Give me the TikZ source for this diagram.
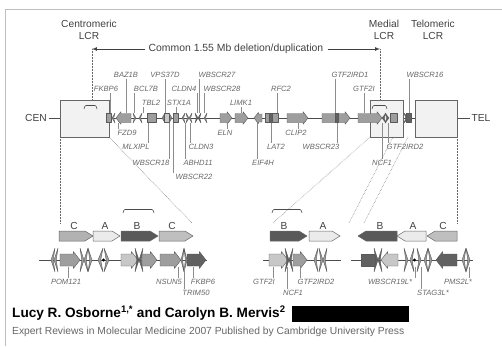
\documentclass[tikz,border=0pt]{standalone}
\usepackage{fontspec}
\setsansfont{Liberation Sans}
\usetikzlibrary{arrows.meta,calc,positioning}

% gene glyphs: arrow right/left (x1,x2,y,half height), box, thin chevrons (x,y,half height,width)
\newcommand{\garR}[5][gene]{\draw[#1] (#2,#4-#5) -- (#3-1.1*#5,#4-#5) -- (#3-1.1*#5,#4-1.4*#5) -- (#3,#4) -- (#3-1.1*#5,#4+1.4*#5) -- (#3-1.1*#5,#4+#5) -- (#2,#4+#5) -- cycle;}
\newcommand{\garL}[5][gene]{\draw[#1] (#3,#4-#5) -- (#2+1.1*#5,#4-#5) -- (#2+1.1*#5,#4-1.4*#5) -- (#2,#4) -- (#2+1.1*#5,#4+1.4*#5) -- (#2+1.1*#5,#4+#5) -- (#3,#4+#5) -- cycle;}
\newcommand{\gbox}[5][gene]{\draw[#1] (#2,#4-#5) rectangle (#3,#4+#5);}
\newcommand{\gchR}[5][gene]{\draw[#1] (#2,#3-#4) -- (#2+#5,#3) -- (#2,#3+#4) -- (#2+0.45*#5,#3) -- cycle;}
\newcommand{\gchL}[5][gene]{\draw[#1] (#2+#5,#3-#4) -- (#2,#3) -- (#2+#5,#3+#4) -- (#2+0.55*#5,#3) -- cycle;}
% LCR segments
\newcommand{\segR}[3]{\draw[seg,fill=#1] (#2,231) -- (#3-8,231) -- (#3,236) -- (#3-8,241) -- (#2,241) -- cycle;}
\newcommand{\segL}[3]{\draw[seg,fill=#1] (#3,231) -- (#2+8,231) -- (#2,236) -- (#2+8,241) -- (#3,241) -- cycle;}

\begin{document}
\begin{tikzpicture}[x=1pt,y=-1pt,
    gene/.style={draw=black!65,fill=black!38,line width=0.4pt,line join=round},
    dgene/.style={gene,fill=black!62},
    lgene/.style={gene,fill=black!22},
    chrom/.style={draw=black!70,line width=0.8pt},
    lcr/.style={draw=black!60,fill=black!5,line width=0.6pt},
    seg/.style={draw=black!60,line width=0.5pt,line join=round},
    hd/.style={font=\sffamily\fontsize{10.2}{12}\selectfont,text=black!75,align=center,inner sep=0pt},
    gl/.style={font=\sffamily\itshape\fontsize{7.6}{8}\selectfont,text=black!60,inner sep=0.8pt},
    lead/.style={draw=black!45,line width=0.35pt},
    dots/.style={draw=black!60,densely dotted,line width=0.5pt},
    brk/.style={draw=black!70,line width=0.6pt,rounded corners=1pt}]
  \useasboundingbox (0,0) rectangle (502,346);
  % frame
  \draw[black!25,line width=1pt] (5,346) -- (5,9) -- (502,9);

  % headings
  \node[hd] (cenlcr) at (89,30) {Centromeric\\LCR};
  \node[hd] (medlcr) at (384,30) {Medial\\LCR};
  \node[hd] (tellcr) at (433,30) {Telomeric\\LCR};
  \node[hd,font=\sffamily\fontsize{10.4}{12}\selectfont] (common) at (236,49) {Common 1.55 Mb deletion/duplication};
  \coordinate (cl) at (92,49);
  \coordinate (cr) at (380,49);
  \draw[-latex,black!75,line width=0.7pt] (common.west) ++(-4,0) -- (cl);
  \draw[-latex,black!75,line width=0.7pt] (common.east) ++(4,0) -- (cr);
  \draw[dots] (cl) -- (92,104);
  \draw[dots] (cr) -- (380,104);

  % chromosome
  \node[hd] (cen) at (36,118) {CEN};
  \node[hd] (tel) at (481,118) {TEL};
  \draw[chrom] (cen.east) ++(2,0) -- (470,118);
  \draw[lcr] (60,100) rectangle (109,137);
  \draw[lcr] (370,100) rectangle (403,137);
  \draw[lcr] (415,100) rectangle (457,137);
  \draw[brk] (84,109) -- (85,105.5) -- (96,105.5) -- (97,109);
  \draw[brk] (372,109) -- (373,105.5) -- (386,105.5) -- (387,109);

  % genes of the deleted region
  \gbox{106}{111}{118}{4.5}
  \gchL{112}{118}{5}{3}
  \garL{116}{131}{118}{4.5}
  \gchR{133}{118}{5}{3}
  \gchL{139}{118}{5}{3}
  \gbox{147}{156}{118}{4.5}
  \gchL{162}{118}{5}{3}
  \gbox[lgene]{164}{169}{118}{4.5}
  \gchR{169}{118}{5}{3}
  \gbox{173}{178}{118}{4.5}
  \gchL{182}{118}{5}{3}
  \gchR{186}{118}{5}{3}
  \gchL{189}{118}{5}{3}
  \gchR[dgene]{195}{118}{5}{3}
  \gchL[dgene]{198}{118}{5}{3}
  \gchL{204}{118}{5}{3}
  \garR{220}{232}{118}{4.5}
  \garR{235}{248}{118}{4.5}
  \garL{254}{262}{118}{4}
  \gbox{265}{278}{118}{4.5}
  \gbox[dgene]{269}{272}{118}{4.5}
  \garR{287}{308}{118}{4.5}
  \garR{322}{350}{118}{4.5}
  \gbox[dgene]{335}{338}{118}{4.5}
  \garR{358}{382}{118}{4.5}
  \gchL[dgene]{382}{118}{5}{4}
  \gchR[dgene]{385}{118}{5}{4}
  \gbox{390}{397}{118}{4.5}
  \gchR[dgene]{404}{118}{5}{4}
  \gbox[dgene]{406}{411}{118}{4.5}

  % labels above the line
  \foreach \nm/\lx/\ly/\txt/\px in {fkbpA/106/89/FKBP6/110, baz/126/75/BAZ1B/126,
      bcl/146/89/BCL7B/134, tbl/151/103/TBL2/143, vps/165/75/VPS37D/165,
      stx/179/103/STX1A/176, cldnF/184/89/CLDN4/197, wbsB/217/75/WBSCR27/199,
      wbsC/222/89/WBSCR28/204, limk/241/103/LIMK1/241, rfc/281/89/RFC2/277,
      gtfA/350/75/GTF2IRD1/335, gtfB/364/89/GTF2I/364, wbsF/425/75/WBSCR16/409} {
    \node[gl] (l\nm) at (\lx,\ly) {\txt};
    \coordinate (p\nm) at (\px,113);
    \draw[lead] (p\nm) -- (p\nm |- l\nm.south);
  }
  % labels below the line
  \foreach \nm/\lx/\ly/\txt/\px in {fzd/127/133/FZD9/118, mlx/136/147/MLXIPL/148,
      wbsA/151/163/WBSCR18/169, wbsD/194/177/WBSCR22/173, abhd/198/163/ABHD11/185,
      cldnT/201/147/CLDN3/190, eln/225/133/ELN/227, eif/263/163/EIF4H/257,
      lat/276/147/LAT2/271, clip/296/133/CLIP2/298, wbsE/321/147/WBSCR23/337,
      ncf/382/163/NCF1/382, gtfC/405/147/GTF2IRD2/388} {
    \node[gl] (l\nm) at (\lx,\ly) {\txt};
    \coordinate (p\nm) at (\px,123);
    \draw[lead] (p\nm) -- (p\nm |- l\nm.north);
  }

  % zoom lines
  \draw[dots] (60,137) -- (60,223);
  \draw[dots] (109,137) -- (192,223);
  \draw[dots] (370,137) -- (273,223);
  \draw[dots] (393,137) -- (349,223);
  \draw[dots] (408,137) -- (364,223);
  \draw[dots] (457,137) -- (457,223);

  % LCR blocks
  \segR{black!30}{59}{93}
  \segR{black!8}{93}{120}
  \segR{black!65}{121}{158}
  \segR{black!25}{159}{193}
  \segR{black!65}{270}{307}
  \segR{black!8}{309}{340}
  \segL{black!65}{358}{397}
  \segL{black!8}{397}{426}
  \segL{black!25}{427}{457}
  \foreach \nm/\lx/\txt in {cA/74/C, aA/105/A, bA/137/B, cB/172/C, bB/284/B, aB/323/A,
      bC/380/B, aC/413/A, cC/443/C}
    \node[hd] (s\nm) at (\lx,226) {\txt};
  \draw[brk] (123,213) -- (124,209.5) -- (153,209.5) -- (154,213);
  \draw[brk] (272,213) -- (273,209.5) -- (301,209.5) -- (302,213);

  % genes within the LCRs
  \draw[chrom,line width=0.7pt] (39,260) -- (207,260);
  \draw[chrom,line width=0.7pt] (263,260) -- (341,260);
  \draw[chrom,line width=0.7pt] (351,260) -- (473,260);
  \gchL{51}{260}{12}{4}
  \gchL{54}{260}{12}{4}
  \garR{60}{80}{260}{6}
  \gchR{80}{260}{12}{4}
  \gchL{84}{260}{12}{4}
  \gchR{88}{260}{12}{4}
  \gchL{98}{260}{12}{5}
  \gchR{104}{260}{12}{5}
  \fill (103.5,260) circle (1.6);
  \garR[lgene]{121}{138}{260}{6}
  \gchR[dgene]{135}{260}{12}{4}
  \gchL[dgene]{139}{260}{12}{4}
  \garR{142}{157}{260}{6}
  \garR{160}{181}{260}{6}
  \gchL{181}{260}{12}{3}
  \gchR{184}{260}{12}{3}
  \garR[dgene]{187}{206}{260}{6}
  \garR[lgene]{269}{288}{260}{6}
  \gchR[dgene]{285}{260}{12}{4}
  \gchL[dgene]{289}{260}{12}{4}
  \garR{293}{307}{260}{6}
  \gchL{314}{260}{12}{4}
  \gchR{319}{260}{12}{4}
  \gchL{323}{260}{12}{4}
  \gbox[dgene]{361}{375}{260}{6}
  \gchR[dgene]{374}{260}{12}{4}
  \gchL[dgene]{378}{260}{12}{4}
  \garL[lgene]{381}{398}{260}{6}
  \gchR{404}{260}{12}{4}
  \gchL{410}{260}{12}{4}
  \gchR{417}{260}{12}{4}
  \fill (414.5,260) circle (1.6);
  \gchL{424}{260}{12}{4}
  \gchR{428}{260}{12}{4}
  \garL[dgene]{436}{457}{260}{6}
  \gchL{462}{260}{12}{4}
  \gchR{466}{260}{12}{4}
  \foreach \nm/\lx/\ly/\txt/\px in {pom/66/282/POM121/68, nsun/169/282/NSUN5/178,
      trim/196/293/TRIM50/184, fkbpB/203/282/FKBP6/193, gtfD/264/282/GTF2I/273,
      ncfB/293/293/NCF1/287, gtfE/316/282/GTF2IRD2/300, wbsG/390/282/WBSCR19L*/415,
      stag/433/293/STAG3L*/421, pms/458/282/PMS2L*/469} {
    \node[gl] (l\nm) at (\lx,\ly) {\txt};
    \coordinate (p\nm) at (\px,267);
    \draw[lead] (p\nm) -- (p\nm |- l\nm.north);
  }

  % credits
  \node[anchor=west,inner sep=0pt,font=\sffamily\bfseries\fontsize{13.6}{15}\selectfont] (auth) at (12,313)
    {Lucy R. Osborne\textsuperscript{1,*} and Carolyn B. Mervis\textsuperscript{2}};
  \fill (292,306) rectangle (409,322);
  \node[anchor=west,inner sep=0pt,text=black!60,font=\sffamily\fontsize{10.3}{12}\selectfont] (src) at (12,332)
    {Expert Reviews in Molecular Medicine 2007 Published by Cambridge University Press};
\end{tikzpicture}
\end{document}
